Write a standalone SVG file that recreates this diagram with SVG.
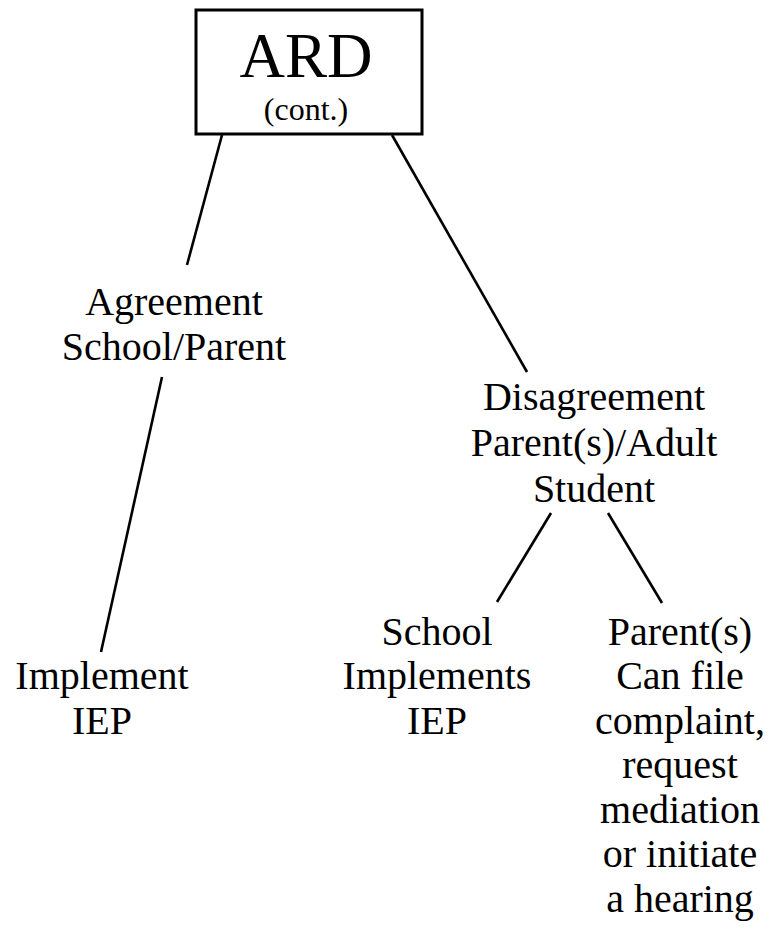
<svg xmlns="http://www.w3.org/2000/svg" width="769" height="933" viewBox="0 0 769 933">
<style>
text{font-family:"Liberation Serif","Times New Roman",serif;fill:#000;text-anchor:middle}
.t{font-size:40px}
.conn line{stroke:#000;stroke-width:2.6;stroke-linecap:butt}
</style>
<rect width="769" height="933" fill="#fff"/>
<g id="ard">
<rect x="196" y="10" width="226" height="124" fill="none" stroke="#000" stroke-width="3"/>
<text x="306" y="77" font-size="63">ARD</text>
<text x="306" y="120" font-size="32">(cont.)</text>
</g>
<g id="agreement">
<text class="t" x="174" y="315">Agreement</text>
<text class="t" x="174" y="360">School/Parent</text>
</g>
<g id="disagreement">
<text class="t" x="594" y="410">Disagreement</text>
<text class="t" x="594" y="456">Parent(s)/Adult</text>
<text class="t" x="594" y="502">Student</text>
</g>
<g id="implement">
<text class="t" x="102" y="689">Implement</text>
<text class="t" x="102" y="734">IEP</text>
</g>
<g id="school">
<text class="t" x="437" y="645">School</text>
<text class="t" x="437" y="689">Implements</text>
<text class="t" x="437" y="734">IEP</text>
</g>
<g id="parents">
<text class="t" x="680" y="645">Parent(s)</text>
<text class="t" x="680" y="689">Can file</text>
<text class="t" x="680" y="734">complaint,</text>
<text class="t" x="680" y="778">request</text>
<text class="t" x="680" y="823">mediation</text>
<text class="t" x="680" y="867">or initiate</text>
<text class="t" x="680" y="912">a hearing</text>
</g>
<g class="conn" id="connectors">
<line x1="222" y1="135" x2="187" y2="265"/>
<line x1="392" y1="135" x2="527" y2="372"/>
<line x1="162" y1="377" x2="101" y2="652"/>
<line x1="551" y1="513" x2="497" y2="602"/>
<line x1="608" y1="513" x2="662" y2="603"/>
</g>
</svg>
